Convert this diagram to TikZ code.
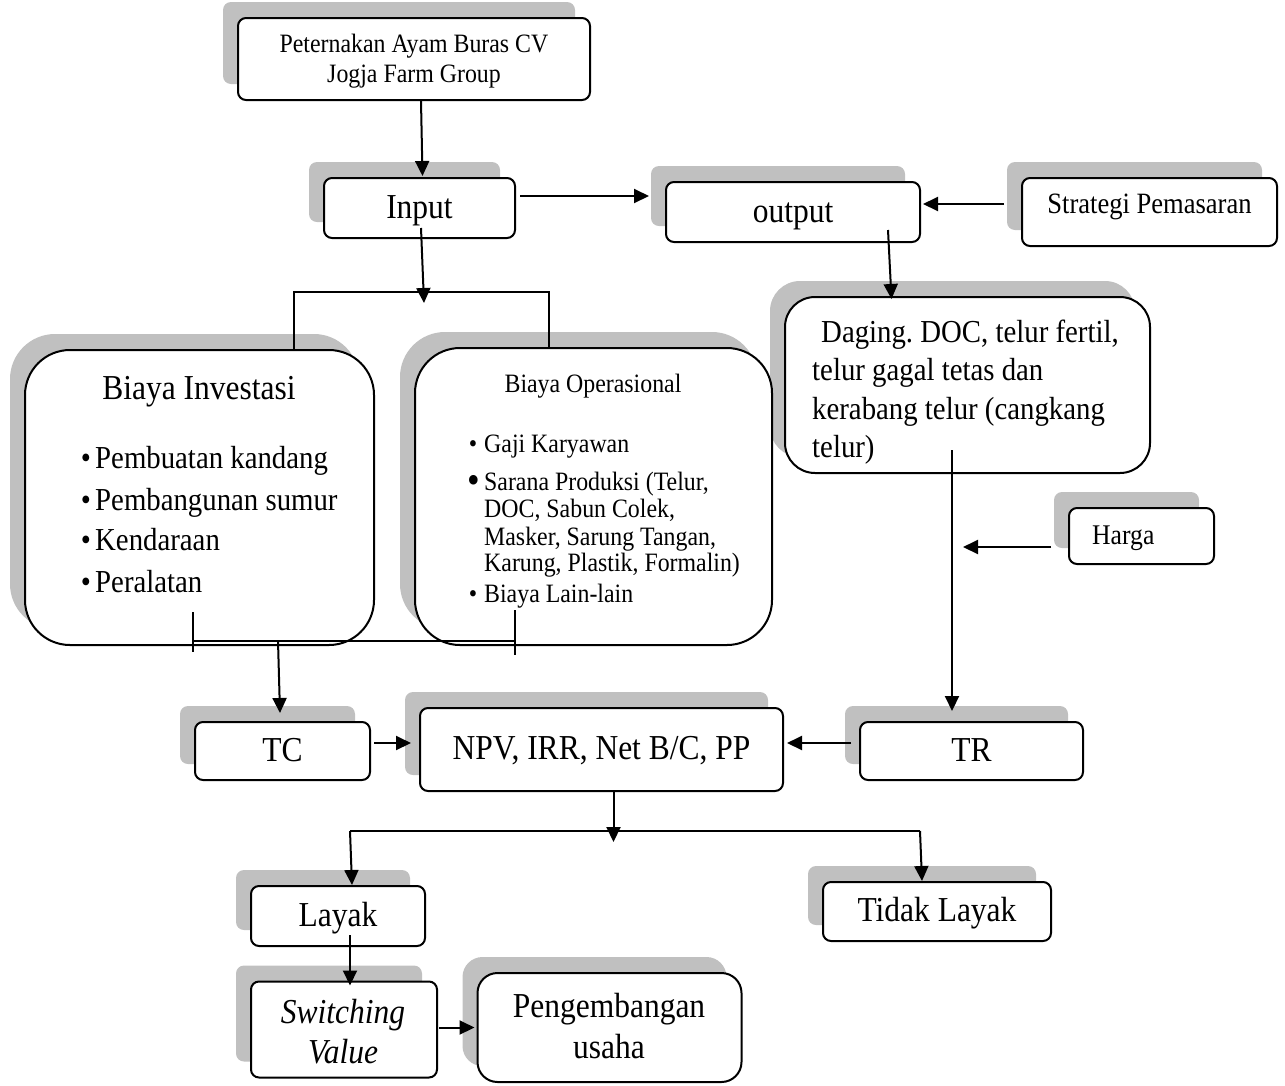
\documentclass[tikz,border=0pt]{standalone}
\usepackage{fontspec}
\setmainfont[FakeStretch=0.9]{Liberation Serif}
\usetikzlibrary{shadows,arrows.meta,calc}
\definecolor{shgray}{HTML}{C0C0C0}
\frenchspacing
\begin{document}
\begin{tikzpicture}[x=1pt,y=-1pt,
  bx/.style={draw, line width=2pt, fill=white, rounded corners=#1, inner sep=0pt,
    general shadow={shadow xshift=-15pt, shadow yshift=16pt, fill=shgray}},
  bx/.default=8pt,
  arr/.style={line width=2pt, -{Triangle[length=15pt,width=14pt]}},
  ln/.style={line width=2pt},
  big/.style={font=\fontsize{35}{40}\selectfont},
  bigc/.style={big, text height=24pt, text depth=4pt},
  sml/.style={font=\fontsize{26.5}{30}\selectfont},
  mid/.style={font=\fontsize{32}{39}\selectfont},
  txt/.style={inner sep=0pt, anchor=base west},
  ctxt/.style={inner sep=0pt, anchor=base}]
\useasboundingbox (0,0) rectangle (1285,1085);

% boxes
\node[bx, minimum width=352pt, minimum height=82pt] (farm) at (414,59) {};
\node[bx, minimum width=191pt, minimum height=60pt, bigc] (input) at (419.5,208) {Input};
\node[bx, minimum width=254pt, minimum height=60pt, bigc] (output) at (793,212) {output};
\node[bx, minimum width=255pt, minimum height=68pt, font=\fontsize{29.5}{32}\selectfont, text height=19pt, text depth=17pt] (strat) at (1149.5,212) {Strategi Pemasaran};
\node[bx=30pt, minimum width=365pt, minimum height=176pt] (daging) at (967.5,385) {};
\node[bx=45pt, minimum width=349pt, minimum height=295pt] (inv) at (199.5,497.5) {};
\node[bx=45pt, minimum width=357pt, minimum height=297pt] (op) at (593.5,496.5) {};
\node[bx, minimum width=145pt, minimum height=56pt] (harga) at (1141.5,536) {};
\node[bx, minimum width=175pt, minimum height=58pt, bigc] (tc) at (282.5,751) {TC};
\node[bx, minimum width=363pt, minimum height=83pt, bigc] (npv) at (601.5,749.5) {NPV, IRR, Net B/C, PP};
\node[bx, minimum width=223pt, minimum height=58pt, bigc] (tr) at (971.5,751) {TR};
\node[bx, minimum width=174pt, minimum height=60pt, bigc] (layak) at (338,916) {Layak};
\node[bx, minimum width=228pt, minimum height=59pt, bigc] (tidak) at (937,911.5) {Tidak Layak};
\node[bx, minimum width=186pt, minimum height=96pt] (switch) at (344,1029.5) {};
\node[bx=20pt, minimum width=264pt, minimum height=109pt] (peng) at (609.5,1027.5) {};

% texts of the top box
\node[ctxt, sml] (f1) at (414,52) {Peternakan Ayam Buras CV};
\node[ctxt, sml] (f2) at (414,82) {Jogja Farm Group};

% texts of Daging box
\node[txt, mid] (d1) at (821,342) {Daging. DOC, telur fertil,};
\node[txt, mid] (d2) at (812,380) {telur gagal tetas dan};
\node[txt, mid] (d3) at (812,419) {kerabang telur (cangkang};
\node[txt, mid] (d4) at (812,457) {telur)};

% texts of Biaya Investasi
\node[ctxt, big] (i0) at (199,399) {Biaya Investasi};
\foreach \t/\yy [count=\k] in {Pembuatan kandang/468, Pembangunan sumur/510, Kendaraan/550, Peralatan/592}{
  \node[ctxt, mid] (ib\k) at (86,\yy) {\textbullet};
  \node[txt, mid] (it\k) at (95,\yy) {\t};
}

% texts of Biaya Operasional
\node[ctxt, sml] (o0) at (593,392) {Biaya Operasional};
\node[ctxt, sml] (ob1) at (473,452) {\textbullet};
\node[txt, sml] (ot1) at (484,452) {Gaji Karyawan};
\node[ctxt, font=\fontsize{40}{40}\selectfont] (ob2) at (474,493) {\textbullet};
\node[txt, sml] (ot2) at (484,490) {Sarana Produksi (Telur,};
\node[txt, sml] (ot3) at (484,517) {DOC, Sabun Colek,};
\node[txt, sml] (ot4) at (484,545) {Masker, Sarung Tangan,};
\node[txt, sml] (ot5) at (484,571) {Karung, Plastik, Formalin)};
\node[ctxt, sml] (ob3) at (473,602) {\textbullet};
\node[txt, sml] (ot6) at (484,602) {Biaya Lain-lain};

% Harga text
\node[txt, font=\fontsize{28.5}{32}\selectfont] (ht) at (1092,544) {Harga};

% Switching value text
\node[ctxt, big] (s1) at (343,1023) {\itshape Switching};
\node[ctxt, big] (s2) at (343,1063) {\itshape Value};

% Pengembangan text
\node[ctxt, big] (p1) at (609,1017) {Pengembangan};
\node[ctxt, big] (p2) at (609,1058) {usaha};

% connectors
\draw[arr] ([shift={(7,0)}]farm.south) -- ([shift={(3,-1)}]input.north);
\draw[arr] ([shift={(4,-12)}]input.east) -- ([shift={(-16,-16)}]output.west);
\draw[arr] ([shift={(-17,-8)}]strat.west) -- ([shift={(2,-8)}]output.east);
\draw[arr] ([shift={(95,18)}]output.center) -- ([shift={(-76,3)}]daging.north);

\coordinate (bl) at (294,292);
\coordinate (br) at (549,292);
\draw[ln] (bl |- inv.north) -- (bl) -- (br) -- (br |- op.north);
\draw[arr] ([shift={(1.5,20)}]input.center) -- ([shift={(130,11)}]bl);

\coordinate (cl) at (193,641);
\coordinate (cr) at (515,641);
\coordinate (cm) at (278,641);
\draw[ln] (cl) -- (cr);
\draw[ln] ([shift={(0,-29)}]cl) -- ([shift={(0,11)}]cl);
\draw[ln] ([shift={(0,-31)}]cr) -- ([shift={(0,14)}]cr);
\draw[arr] (cm) -- ([shift={(-2.5,-8)}]tc.north);

\draw[arr] ([shift={(3,-8)}]tc.east) -- ([shift={(-8,-6.5)}]npv.west);
\draw[arr] ([shift={(-8,-8)}]tr.west) -- ([shift={(3,-6.5)}]npv.east);
\draw[arr] ([shift={(-15.5,65)}]daging.center) -- ([shift={(-19.5,-10)}]tr.north);
\coordinate (hp) at (963,547);
\draw[arr] ([shift={(-17,11)}]harga.west) -- (hp);

\coordinate (sl) at (350,831);
\coordinate (sr) at (920,831);
\draw[arr] ([shift={(12,0)}]npv.south) -- ([shift={(12,50)}]npv.south);
\draw[ln] (sl) -- (sr);
\draw[arr] (sl) -- ([shift={(14,0)}]layak.north);
\draw[arr] (sr) -- ([shift={(-15,0)}]tidak.north);
\draw[arr] ([shift={(12,19)}]layak.center) -- ([shift={(6,5)}]switch.north);
\draw[arr] ([shift={(1,-2)}]switch.east) -- ([shift={(-2,0)}]peng.west);
\end{tikzpicture}
\end{document}
